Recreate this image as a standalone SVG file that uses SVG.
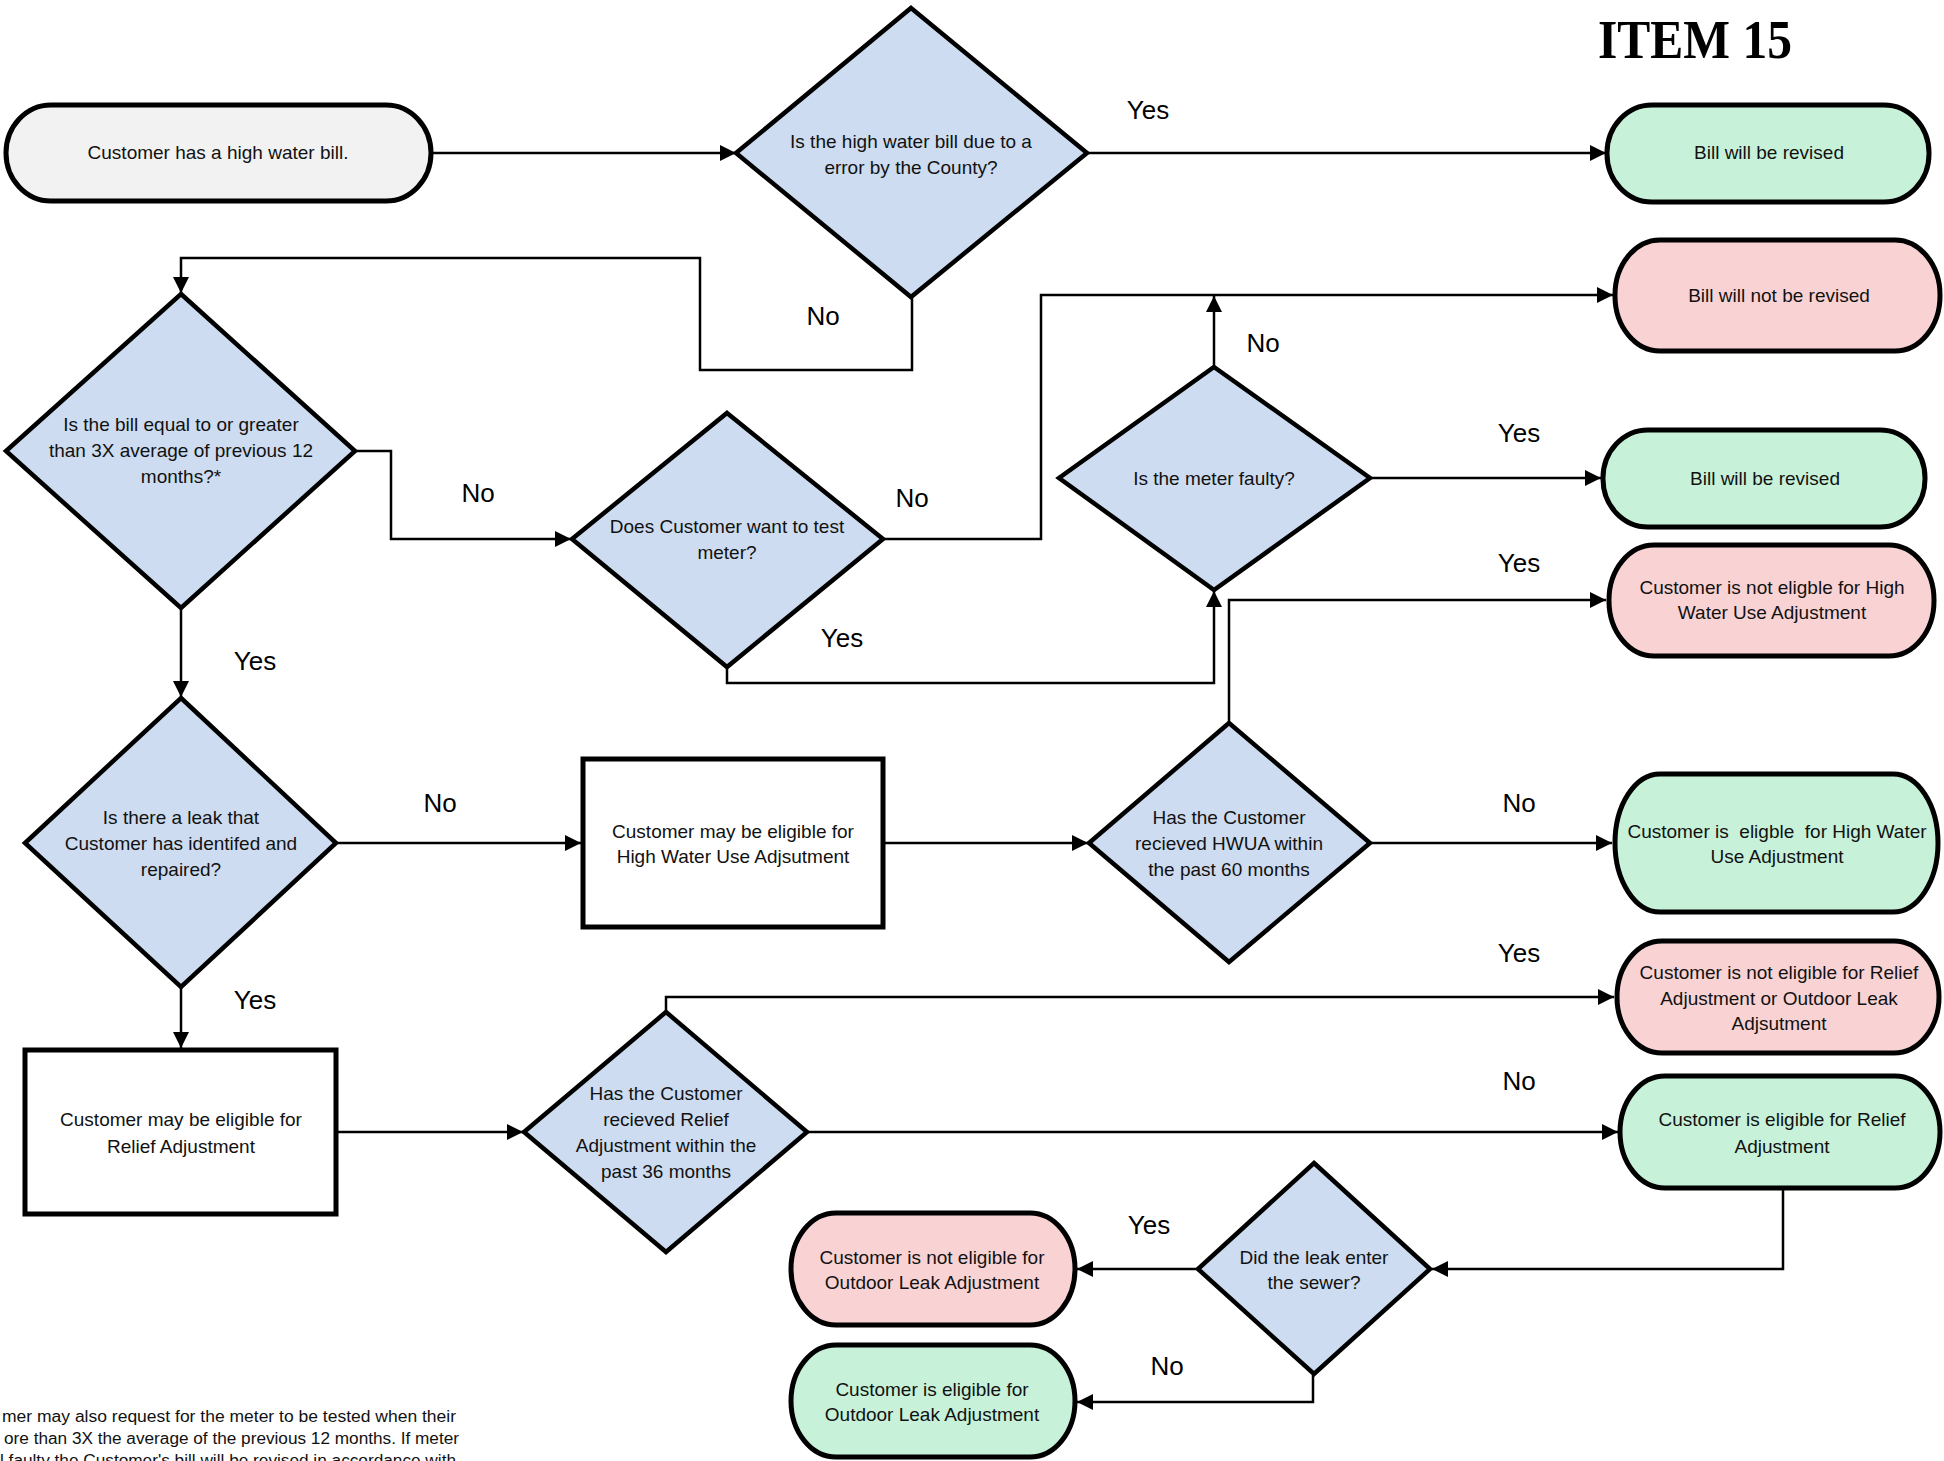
<svg xmlns="http://www.w3.org/2000/svg" width="1944" height="1461" viewBox="0 0 1944 1461">
<defs>
<marker id="arr" markerUnits="userSpaceOnUse" markerWidth="17" markerHeight="17" refX="16" refY="8" orient="auto">
<path d="M0,0 L16,8 L0,16 z" fill="#000"/>
</marker>
<style>
.term{stroke:#000;stroke-width:5}
.start{fill:#f2f2f2}
.green{fill:#c7f2d9}
.pink{fill:#f9d3d4}
.dia{fill:#cddcf0;stroke:#000;stroke-width:4.5;stroke-linejoin:miter;stroke-miterlimit:10}
.box{fill:#fff;stroke:#000;stroke-width:5}
.t{font-family:"Liberation Sans",Arial,sans-serif;font-size:19px;fill:#111;text-anchor:middle}
.lbl{font-family:"Liberation Sans",Arial,sans-serif;font-size:26px;fill:#000;text-anchor:middle}
.note{font-family:"Liberation Sans",Arial,sans-serif;font-size:16px;fill:#111}
.title{font-family:"Liberation Serif","Times New Roman",serif;font-size:54px;font-weight:bold;fill:#000;text-anchor:middle}
#connectors path{fill:none;stroke:#000;stroke-width:2.5;marker-end:url(#arr)}
</style>
</defs>
<rect width="1944" height="1461" fill="#fff"/>

<text class="title" x="1695" y="58" textLength="194" lengthAdjust="spacingAndGlyphs">ITEM 15</text>

<g id="connectors">
<path d="M431,153 H736"/>
<path d="M1087,153 H1606"/>
<path d="M912,297 V370 H700 V258 H181 V293"/>
<path d="M354,451 H391 V539 H571"/>
<path d="M883,539 H1041 V295 H1613"/>
<path d="M1214,367 V296"/>
<path d="M1370,478 H1601"/>
<path d="M727,667 V683 H1214 V591"/>
<path d="M181,608 V697"/>
<path d="M336,843 H581"/>
<path d="M883,843 H1088"/>
<path d="M1370,843 H1612"/>
<path d="M1229,723 V600 H1606"/>
<path d="M181,987 V1048"/>
<path d="M337,1132 H523"/>
<path d="M666,1012 V997 H1614"/>
<path d="M807,1132 H1618"/>
<path d="M1783,1188 V1269 H1432"/>
<path d="M1197,1269 H1077"/>
<path d="M1313,1375 V1402 H1077"/>
</g>

<g id="labels">
<text class="lbl" x="1148" y="119">Yes</text>
<text class="lbl" x="823" y="325">No</text>
<text class="lbl" x="478" y="502">No</text>
<text class="lbl" x="912" y="507">No</text>
<text class="lbl" x="842" y="647">Yes</text>
<text class="lbl" x="1263" y="352">No</text>
<text class="lbl" x="1519" y="442">Yes</text>
<text class="lbl" x="1519" y="572">Yes</text>
<text class="lbl" x="255" y="670">Yes</text>
<text class="lbl" x="440" y="812">No</text>
<text class="lbl" x="1519" y="812">No</text>
<text class="lbl" x="255" y="1009">Yes</text>
<text class="lbl" x="1519" y="962">Yes</text>
<text class="lbl" x="1519" y="1090">No</text>
<text class="lbl" x="1149" y="1234">Yes</text>
<text class="lbl" x="1167" y="1375">No</text>
</g>

<g id="n-start">
<rect class="term start" x="6" y="105" width="425" height="96" rx="45" ry="48"/>
<text class="t" x="218" y="159">Customer has a high water bill.</text>
</g>

<g id="n-d1">
<polygon class="dia" points="911,8 1087,153 911,297 736,153"/>
<text class="t" x="911" y="148">Is the high water bill due to a<tspan x="911" dy="26">error by the County?</tspan></text>
</g>

<g id="n-rev1">
<rect class="term green" x="1607" y="105" width="322" height="97" rx="45" ry="48"/>
<text class="t" x="1769" y="159">Bill will be revised</text>
</g>

<g id="n-notrev">
<rect class="term pink" x="1615" y="240" width="325" height="111" rx="45" ry="55"/>
<text class="t" x="1779" y="302">Bill will not be revised</text>
</g>

<g id="n-d2">
<polygon class="dia" points="181,294 355,451 181,608 6,451"/>
<text class="t" x="181" y="431">Is the bill equal to or greater<tspan x="181" dy="26">than 3X average of previous 12</tspan><tspan x="181" dy="26">months?*</tspan></text>
</g>

<g id="n-d3">
<polygon class="dia" points="727,413 883,539 727,667 572,539"/>
<text class="t" x="727" y="533">Does Customer want to test<tspan x="727" dy="26">meter?</tspan></text>
</g>

<g id="n-d4">
<polygon class="dia" points="1214,367 1370,478 1214,590 1059,478"/>
<text class="t" x="1214" y="485">Is the meter faulty?</text>
</g>

<g id="n-rev2">
<rect class="term green" x="1603" y="430" width="322" height="97" rx="45" ry="48"/>
<text class="t" x="1765" y="485">Bill will be revised</text>
</g>

<g id="n-nothwua">
<rect class="term pink" x="1609" y="545" width="325" height="111" rx="45" ry="55"/>
<text class="t" x="1772" y="594">Customer is not eligble for High<tspan x="1772" dy="25">Water Use Adjustment</tspan></text>
</g>

<g id="n-d6">
<polygon class="dia" points="181,698 336,843 181,987 25,843"/>
<text class="t" x="181" y="824">Is there a leak that<tspan x="181" dy="26">Customer has identifed and</tspan><tspan x="181" dy="26">repaired?</tspan></text>
</g>

<g id="n-boxhwua">
<rect class="box" x="583" y="759" width="300" height="168"/>
<text class="t" x="733" y="838">Customer may be eligible for<tspan x="733" dy="25">High Water Use Adjsutment</tspan></text>
</g>

<g id="n-d5">
<polygon class="dia" points="1229,723 1370,843 1229,962 1089,843"/>
<text class="t" x="1229" y="824">Has the Customer<tspan x="1229" dy="26">recieved HWUA within</tspan><tspan x="1229" dy="26">the past 60 months</tspan></text>
</g>

<g id="n-hwua">
<rect class="term green" x="1615" y="774" width="323" height="138" rx="45" ry="69"/>
<text class="t" x="1777" y="838" xml:space="preserve">Customer is  eligble  for High Water<tspan x="1777" dy="25">Use Adjustment</tspan></text>
</g>

<g id="n-boxrelief">
<rect class="box" x="25" y="1050" width="311" height="164"/>
<text class="t" x="181" y="1126">Customer may be eligible for<tspan x="181" dy="27">Relief Adjustment</tspan></text>
</g>

<g id="n-d7">
<polygon class="dia" points="666,1012 807,1132 666,1252 524,1132"/>
<text class="t" x="666" y="1100">Has the Customer<tspan x="666" dy="26">recieved Relief</tspan><tspan x="666" dy="26">Adjustment within the</tspan><tspan x="666" dy="26">past 36 months</tspan></text>
</g>

<g id="n-notrelief">
<rect class="term pink" x="1617" y="941" width="322" height="112" rx="45" ry="56"/>
<text class="t" x="1779" y="979">Customer is not eligible for Relief<tspan x="1779" dy="26">Adjustment or Outdoor Leak</tspan><tspan x="1779" dy="25">Adjsutment</tspan></text>
</g>

<g id="n-relief">
<rect class="term green" x="1620" y="1076" width="320" height="112" rx="45" ry="56"/>
<text class="t" x="1782" y="1126">Customer is eligible for Relief<tspan x="1782" dy="27">Adjustment</tspan></text>
</g>

<g id="n-d8">
<polygon class="dia" points="1314,1163 1430,1269 1314,1374 1198,1269"/>
<text class="t" x="1314" y="1264">Did the leak enter<tspan x="1314" dy="25">the sewer?</tspan></text>
</g>

<g id="n-notout">
<rect class="term pink" x="791" y="1213" width="284" height="112" rx="45" ry="56"/>
<text class="t" x="932" y="1264">Customer is not eligible for<tspan x="932" dy="25">Outdoor Leak Adjustment</tspan></text>
</g>

<g id="n-out">
<rect class="term green" x="791" y="1345" width="284" height="112" rx="45" ry="56"/>
<text class="t" x="932" y="1396">Customer is eligible for<tspan x="932" dy="25">Outdoor Leak Adjustment</tspan></text>
</g>

<g id="footnote">
<text class="note" x="2" y="1422" textLength="454" lengthAdjust="spacingAndGlyphs">mer may also request for the meter to be tested when their</text>
<text class="note" x="4" y="1444" textLength="455" lengthAdjust="spacingAndGlyphs">ore than 3X the average of the previous 12 months. If meter</text>
<text class="note" x="0" y="1466" textLength="456" lengthAdjust="spacingAndGlyphs">l faulty the Customer's bill will be revised in accordance with</text>
</g>
</svg>
